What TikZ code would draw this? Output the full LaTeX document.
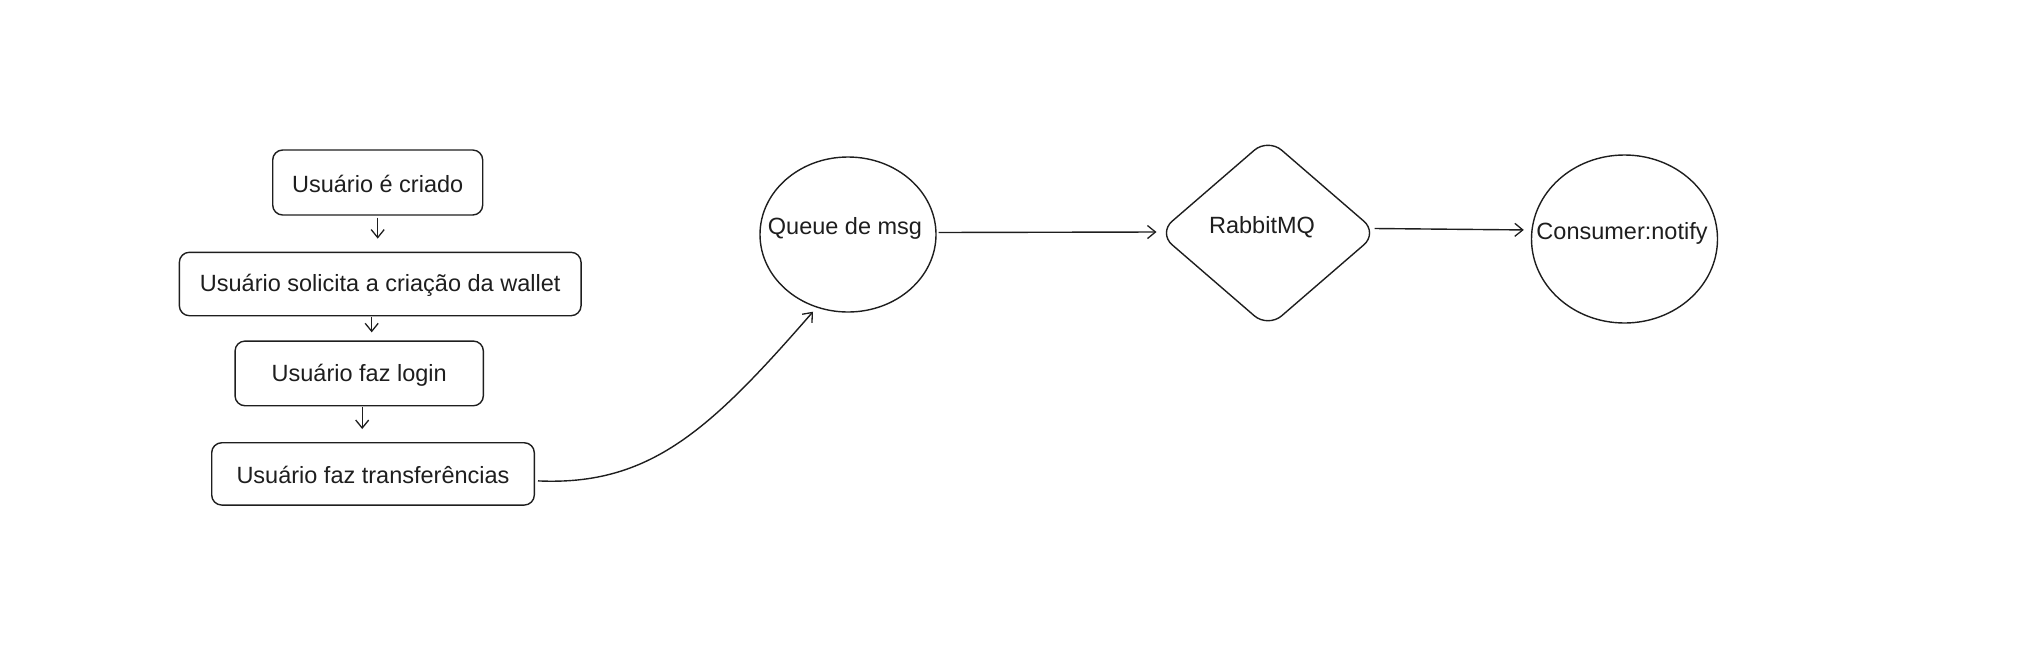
\documentclass[tikz,border=0pt]{standalone}
\usepackage{fontspec}
\setmainfont{Liberation Sans}
\usetikzlibrary{arrows.meta,shapes.geometric}
\definecolor{ink}{HTML}{1E1E1E}
\tikzset{
  box/.style={draw=ink, line width=1.4pt, rounded corners=10pt, inner sep=0pt},
  roundshape/.style={draw=ink, line width=1.4pt, ellipse, inner sep=0pt},
  rhombus/.style={draw=ink, line width=1.4pt, diamond, rounded corners=18pt, inner sep=0pt},
  lbl/.style={text=ink, font=\fontsize{23.5}{26}\selectfont, inner sep=0pt},
  arr/.style={draw=ink, line width=1.4pt, -{Straight Barb[length=8pt,width=13pt,line width=1.3pt]}}
}
\begin{document}
\begin{tikzpicture}[x=1pt,y=-1pt]
\useasboundingbox (0,0) rectangle (2038,665);
% left column
\node[box, minimum width=210pt, minimum height=65pt] (b1) at (377.7,182.5) {};
\node[lbl] (t1) at (377.7,184) {Usuário é criado};
\node[box, minimum width=401.7pt, minimum height=63.4pt] (b2) at (380.2,284) {};
\node[lbl] (t2) at (380.2,285) {Usuário solicita a criação da wallet};
\node[box, minimum width=248.3pt, minimum height=64.7pt] (b3) at (359.2,373.4) {};
\node[lbl] (t3) at (359.2,375) {Usuário faz login};
\node[box, minimum width=322.6pt, minimum height=62.3pt] (b4) at (373,473.9) {};
\node[lbl] (t4) at (373,475) {Usuário faz transferências};
% right part
\node[roundshape, minimum width=176pt, minimum height=155pt] (q) at (848,234.5) {};
\node[lbl] (tq) at (845,228) {Queue de msg};
\node[rhombus, minimum width=219.6pt, minimum height=189.8pt] (r) at (1268,233) {};
\node[lbl] (tr) at (1262,227) {RabbitMQ};
\node[roundshape, minimum width=186pt, minimum height=168pt] (c) at (1624.5,239) {};
\node[lbl] (tc) at (1622,233) {Consumer:notify};
% vertical arrows
\draw[arr, shorten <=2pt, shorten >=13pt] (b1.south) -- (b1.south |- b2.north);
\draw[arr, shorten <=1pt, shorten >=8pt] ([xshift=-8.5pt]b2.south) -- ([xshift=-8.5pt]b2.south |- b3.north);
\draw[arr, shorten <=1pt, shorten >=13pt] ([xshift=3pt]b3.south) -- ([xshift=3pt]b3.south |- b4.north);
% curve to queue
\draw[arr] ([xshift=3pt,yshift=-7pt]b4.east) .. controls (650,486) and (710,430) .. ([xshift=-35pt,yshift=1pt]q.south);
% horizontal arrows
\draw[arr, shorten <=2pt, shorten >=1pt] ([yshift=2pt]q.east) -- ([yshift=1pt]r.west);
\draw[arr, shorten >=7pt] ([xshift=-4pt,yshift=4.5pt]r.east) -- ([yshift=9pt]c.west);
\end{tikzpicture}
\end{document}
